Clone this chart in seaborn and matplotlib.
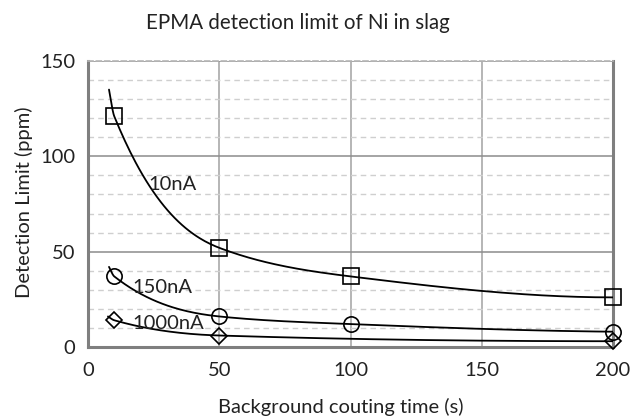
import numpy as np
import pandas as pd
import matplotlib
matplotlib.use("Agg")
import matplotlib.pyplot as plt
from matplotlib.ticker import MultipleLocator
import seaborn as sns

# Detection limit (ppm) versus background counting time (s) for three beam currents
time_10nA = [10, 50, 100, 200]
limit_10nA = [121, 52, 37, 26]
time_150nA = [10, 50, 100, 200]
limit_150nA = [37, 16, 12, 8]
time_1000nA = [10, 50, 200]
limit_1000nA = [14, 6, 3]

# where each smoothed trend line begins, just left of the first point
lead_time = [8, 8, 7.6]
lead_limit = [135, 42, 16]

series_names = ["10nA", "150nA", "1000nA"]
series_markers = ["s", "o", "D"]
label_pos_x = [23, 17, 17]
label_pos_y = [85, 31, 12.5]


def pchip_curve(xs, ys, n_per_seg=60):
    """Monotone piecewise-cubic (Fritsch-Carlson) curve through the points."""
    x = np.asarray(xs, float)
    y = np.asarray(ys, float)
    h = np.diff(x)
    d = np.diff(y) / h
    m = np.zeros_like(x)
    for k in range(1, len(x) - 1):
        if d[k - 1] * d[k] > 0:
            w1 = 2 * h[k] + h[k - 1]
            w2 = h[k] + 2 * h[k - 1]
            m[k] = (w1 + w2) / (w1 / d[k - 1] + w2 / d[k])
    # one-sided end slopes
    def end_slope(h0, h1, d0, d1):
        s = ((2 * h0 + h1) * d0 - h0 * d1) / (h0 + h1)
        if np.sign(s) != np.sign(d0):
            s = 0.0
        elif np.sign(d0) != np.sign(d1) and abs(s) > abs(3 * d0):
            s = 3 * d0
        return s
    if len(x) > 2:
        m[0] = end_slope(h[0], h[1], d[0], d[1])
        m[-1] = end_slope(h[-1], h[-2], d[-1], d[-2])
    else:
        m[:] = d[0]
    out_x, out_y = [], []
    for k in range(len(x) - 1):
        t = np.linspace(0, 1, n_per_seg)
        if k > 0:
            t = t[1:]
        h00 = 2 * t**3 - 3 * t**2 + 1
        h10 = t**3 - 2 * t**2 + t
        h01 = -2 * t**3 + 3 * t**2
        h11 = t**3 - t**2
        out_x.append(x[k] + t * h[k])
        out_y.append(h00 * y[k] + h10 * h[k] * m[k] + h01 * y[k + 1] + h11 * h[k] * m[k + 1])
    return np.concatenate(out_x), np.concatenate(out_y)


sns.set_theme(style="white")
plt.rcParams["font.family"] = ["Lato", "DejaVu Sans"]

fig = plt.figure(figsize=(6.3, 4.17), dpi=100)
ax = fig.add_axes([0.1397, 0.168, 0.8333, 0.6857])

all_times = [time_10nA, time_150nA, time_1000nA]
all_limits = [limit_10nA, limit_150nA, limit_1000nA]

curve_frames = []
point_frames = []
for k, name in enumerate(series_names):
    xs = [lead_time[k]] + list(all_times[k])
    ys = [lead_limit[k]] + list(all_limits[k])
    sx, sy = pchip_curve(xs, ys)
    curve_frames.append(pd.DataFrame({"t": sx, "dl": sy, "series": name}))
    point_frames.append(pd.DataFrame({"t": all_times[k], "dl": all_limits[k], "series": name}))

curves = pd.concat(curve_frames, ignore_index=True)
points = pd.concat(point_frames, ignore_index=True)

sns.lineplot(data=curves, x="t", y="dl", units="series", estimator=None, sort=False,
             color="black", linewidth=1.3, ax=ax, zorder=3)

for k, name in enumerate(series_names):
    sub = points[points["series"] == name]
    ax.plot(sub["t"], sub["dl"], linestyle="none", marker=series_markers[k],
            markersize=11 if series_markers[k] != "D" else 8.5,
            markerfacecolor="none", markeredgecolor="black", markeredgewidth=1.2,
            zorder=4, clip_on=False)
    ax.text(label_pos_x[k], label_pos_y[k], name, fontsize=14.5, color="#222222",
            ha="left", va="center", zorder=5)

ax.set_xlim(0, 200)
ax.set_ylim(0, 150)
ax.xaxis.set_major_locator(MultipleLocator(50))
ax.yaxis.set_major_locator(MultipleLocator(50))
ax.yaxis.set_minor_locator(MultipleLocator(10))

ax.grid(which="major", axis="y", color="#8c8c8c", linewidth=1.1, linestyle="-")
ax.grid(which="major", axis="x", color="#b0b0b0", linewidth=1.3, linestyle="-")
ax.grid(which="minor", axis="y", color="#cfcfcf", linewidth=1.0, linestyle=(0, (4, 3)))
ax.set_axisbelow(True)

for side in ["left", "right"]:
    ax.spines[side].set_color("#7f7f7f")
    ax.spines[side].set_linewidth(2.2)
ax.spines["top"].set_color("#b5b5b5")
ax.spines["top"].set_linewidth(1.2)
ax.spines["top"].set_linestyle((0, (3, 2)))
ax.spines["bottom"].set_color("#7f7f7f")
ax.spines["bottom"].set_linewidth(2.2)
ax.spines["bottom"].set_linestyle((0, (1.2, 1.0)))

ax.tick_params(axis="both", which="both", length=0, labelsize=14.5, colors="#222222")
ax.tick_params(axis="y", pad=9)
ax.tick_params(axis="x", pad=11)

ax.set_xlabel("")
ax.set_ylabel("")
fig.text(341 / 630, 1 - 407 / 417, "Background couting time (s)", fontsize=14.5,
         color="#222222", ha="center", va="center")
fig.text(24 / 630, 1 - 202 / 417, "Detection Limit (ppm)", fontsize=14.5,
         color="#222222", ha="center", va="center", rotation=90)
fig.text(298 / 630, 1 - 23 / 417, "EPMA detection limit of Ni in slag", fontsize=14.8,
         color="#222222", ha="center", va="center")

fig.savefig("out.png", dpi=100)
